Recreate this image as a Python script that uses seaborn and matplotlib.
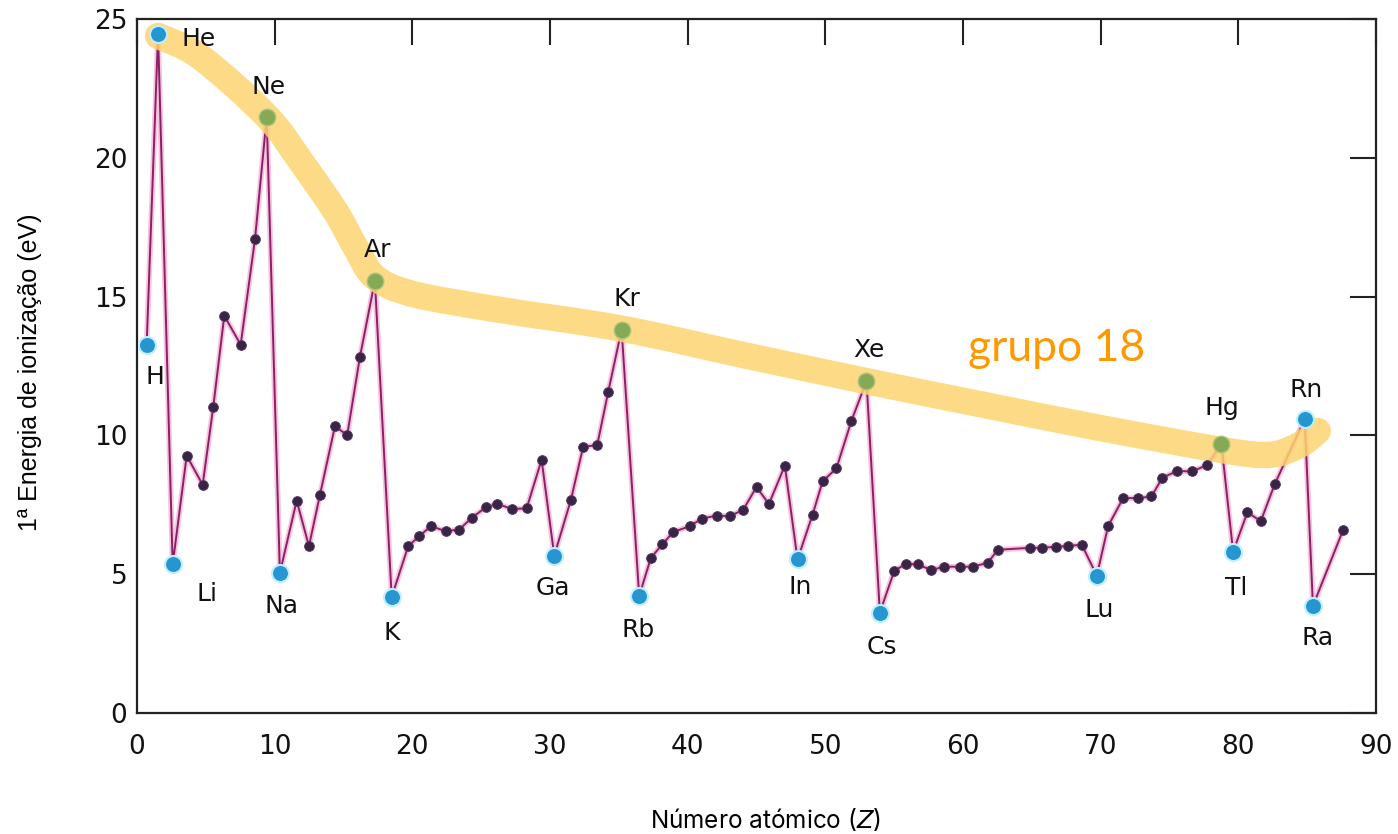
import numpy as np
import pandas as pd
import matplotlib
matplotlib.use("Agg")
import matplotlib.pyplot as plt
from matplotlib.path import Path
from matplotlib.patches import PathPatch
import seaborn as sns

# ---- data ----
symbols = ["H", "He", "Li", "Be", "B", "C", "N", "O", "F", "Ne",
           "Na", "Mg", "Al", "Si", "P", "S", "Cl", "Ar",
           "K", "Ca", "Sc", "Ti", "V", "Cr", "Mn", "Fe", "Co", "Ni", "Cu", "Zn",
           "Ga", "Ge", "As", "Se", "Br", "Kr",
           "Rb", "Sr", "Y", "Zr", "Nb", "Mo", "Tc", "Ru", "Rh", "Pd", "Ag", "Cd",
           "In", "Sn", "Sb", "Te", "I", "Xe",
           "Cs", "Ba", "La", "Ce", "Pr", "Nd", "Pm", "Sm", "Eu", "Gd",
           "Dy", "Ho", "Er", "Tm", "Yb", "Lu",
           "Hf", "Ta", "W", "Re", "Os", "Ir", "Pt", "Au", "Hg",
           "Tl", "Pb", "Bi", "Po", "Rn", "Ra*", "Ra"]

z_pos = [0.70, 1.53, 2.59, 3.61, 4.77, 5.54, 6.34, 7.53, 8.57, 9.42,
         10.38, 11.60, 12.49, 13.29, 14.38, 15.27, 16.19, 17.28,
         18.50, 19.70, 20.50, 21.35, 22.42, 23.41, 24.31, 25.34, 26.17, 27.26, 28.30, 29.39,
         30.31, 31.52, 32.41, 33.43, 34.23, 35.20,
         36.48, 37.33, 38.15, 38.95, 40.16, 41.01, 42.10, 43.06, 44.03, 45.00, 45.90, 47.06,
         47.98, 49.07, 49.80, 50.81, 51.90, 52.99,
         53.96, 55.00, 55.85, 56.70, 57.71, 58.61, 59.77, 60.71, 61.80, 62.53,
         64.85, 65.72, 66.74, 67.61, 68.63, 69.72,
         70.54, 71.63, 72.72, 73.69, 74.49, 75.58, 76.64, 77.76, 78.77,
         79.62, 80.66, 81.63, 82.64, 84.82, 85.42, 87.60]

energy = [13.27, 24.47, 5.35, 9.27, 8.22, 11.03, 14.31, 13.27, 17.06, 21.46,
          5.05, 7.65, 6.01, 7.86, 10.33, 10.01, 12.82, 15.57,
          4.18, 6.01, 6.37, 6.73, 6.55, 6.61, 7.03, 7.41, 7.53, 7.35, 7.37, 9.12,
          5.67, 7.68, 9.59, 9.65, 11.57, 13.81,
          4.22, 5.59, 6.07, 6.52, 6.73, 7.00, 7.11, 7.09, 7.32, 8.14, 7.53, 8.91,
          5.53, 7.14, 8.34, 8.82, 10.53, 11.96,
          3.62, 5.11, 5.38, 5.35, 5.15, 5.27, 5.27, 5.27, 5.41, 5.88,
          5.95, 5.95, 5.99, 6.02, 6.06, 4.95,
          6.73, 7.74, 7.74, 7.80, 8.48, 8.72, 8.70, 8.94, 9.69,
          5.81, 7.23, 6.91, 8.24, 10.58, 3.86, 6.58]

blue_syms = ["H", "He", "Li", "Na", "K", "Ga", "Rb", "In", "Cs", "Lu", "Tl", "Rn", "Ra*"]
green_syms = ["Ne", "Ar", "Kr", "Xe", "Hg"]

label_text = {"H": "H", "He": "He", "Li": "Li", "Ne": "Ne", "Na": "Na", "Ar": "Ar",
              "K": "K", "Ga": "Ga", "Kr": "Kr", "Rb": "Rb", "In": "In", "Xe": "Xe",
              "Cs": "Cs", "Lu": "Lu", "Hg": "Hg", "Tl": "Tl", "Rn": "Rn", "Ra*": "Ra"}
label_off = {"H": (6, -23), "He": (29, -4), "Li": (25, -21), "Ne": (1, 22),
             "Na": (1, -24), "Ar": (2, 22), "K": (0, -26), "Ga": (-1, -23),
             "Kr": (4, 22), "Rb": (-1, -24.5), "In": (2, -20), "Xe": (2, 22),
             "Cs": (1.5, -25), "Lu": (2, -24.5), "Hg": (0, 26), "Tl": (2, -26),
             "Rn": (1, 21), "Ra*": (3, -23)}

# group 18 band path (data coords)
band_x = [1.53, 4.58, 9.42, 11.96, 14.44, 15.9, 17.28, 20.0, 26.0, 35.15, 44.0,
          52.94, 61.5, 69.93, 78.72, 82.28, 84.46, 85.77]
band_y = [24.39, 23.64, 21.50, 19.83, 18.05, 16.75, 15.70, 15.10, 14.55, 13.85, 12.90,
          11.96, 11.10, 10.27, 9.48, 9.30, 9.66, 10.16]

df = pd.DataFrame({"sym": symbols, "Z": z_pos, "E": energy})

sns.set_theme(style="white")
plt.rcParams["font.family"] = ["DejaVu Sans"]

fig = plt.figure(figsize=(13.98, 8.34), dpi=100)
ax = fig.add_axes([137 / 1398, 1 - 713 / 834, (1376 - 137) / 1398, (713 - 19) / 834])

# line with pink glow
sns.lineplot(data=df, x="Z", y="E", ax=ax, color="#f07ab8", lw=4.0, alpha=0.45,
             sort=False, zorder=2, legend=False)
sns.lineplot(data=df, x="Z", y="E", ax=ax, color="#8a2068", lw=1.4,
             sort=False, zorder=3, legend=False)

# group 18 band (smooth curve through traced points)
P = np.column_stack([band_x, band_y])
verts = [P[0]]
codes = [Path.MOVETO]
n = len(P)
for i in range(n - 1):
    p0 = P[i - 1] if i > 0 else P[i]
    p1 = P[i]
    p2 = P[i + 1]
    p3 = P[i + 2] if i + 2 < n else P[i + 1]
    c1 = p1 + (p2 - p0) / 6.0
    c2 = p2 - (p3 - p1) / 6.0
    verts += [c1, c2, p2]
    codes += [Path.CURVE4] * 3
band = PathPatch(Path(verts, codes), facecolor="none", edgecolor="#fdd470",
                 lw=19, alpha=0.85, capstyle="round", joinstyle="round", zorder=4)
ax.add_patch(band)

# markers
plain = df[~df["sym"].isin(blue_syms + green_syms)]
sns.scatterplot(data=plain, x="Z", y="E", ax=ax, color="#3a2446", s=50,
                edgecolor="#5a3a66", linewidth=0.6, zorder=5, legend=False)
blue = df[df["sym"].isin(blue_syms)]
sns.scatterplot(data=blue, x="Z", y="E", ax=ax, color="#2596cf", s=150,
                edgecolor="#bfeeff", linewidth=1.5, zorder=6, legend=False)
green = df[df["sym"].isin(green_syms)]
sns.scatterplot(data=green, x="Z", y="E", ax=ax, color="#86a955", s=140,
                edgecolor="#a9c47a", linewidth=1.0, zorder=6, legend=False)

for _, r in df[df["sym"].isin(list(label_text))].iterrows():
    ax.annotate(label_text[r["sym"]], (r["Z"], r["E"]), xytext=label_off[r["sym"]],
                textcoords="offset points", ha="center", va="center",
                fontsize=18, color="#111111", zorder=7)

ax.text(60.35, 12.67, "grupo 18", color="#ff9900", fontsize=32,
        family=["Lato", "DejaVu Sans"], ha="left", va="baseline", zorder=7)

ax.set_xlim(0, 90)
ax.set_ylim(0, 25)
ax.set_xticks(range(0, 91, 10))
ax.set_yticks(range(0, 26, 5))
ax.tick_params(direction="in", length=19, width=1.5, color="#222222",
               top=True, right=True, labelsize=19, labelcolor="#111111")
ax.tick_params(axis="x", pad=15)
ax.tick_params(axis="y", pad=7)
for s in ax.spines.values():
    s.set_linewidth(1.6)
    s.set_color("#222222")
    s.set_visible(True)

ax.set_ylabel("1ª Energia de ionização (eV)", fontsize=18,
              family=["Liberation Sans", "DejaVu Sans"], va="center", color="#000000")
ax.yaxis.set_label_coords(-0.0864, 0.491)
ax.set_xlabel("Número atómico ($Z$)", fontsize=17.5,
              family=["Inter", "DejaVu Sans"], va="center", color="#000000")
ax.xaxis.set_label_coords(0.507, -0.154)

fig.savefig("out.png", dpi=100)
